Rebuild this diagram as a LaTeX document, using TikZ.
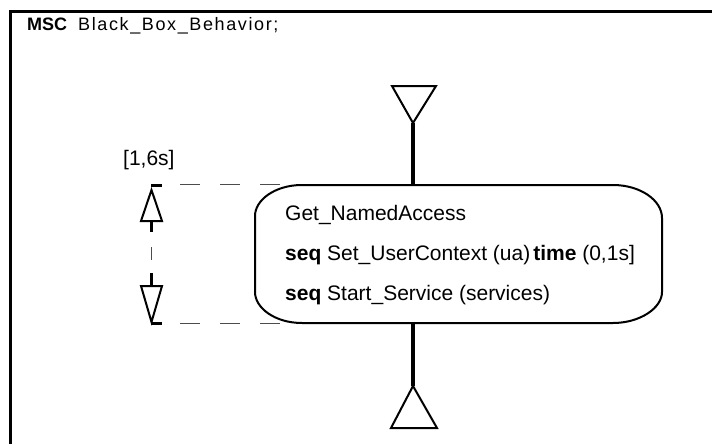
\documentclass[tikz,border=0pt]{standalone}
\usepackage{fontspec}
\setmainfont{Liberation Sans}
\newfontfamily\spaced[LetterSpace=9]{Liberation Sans}
\begin{document}
\begin{tikzpicture}[x=1pt,y=-1pt,
  frameline/.style={line width=3pt,black},
  boxline/.style={line width=2pt,black,line join=round},
  lifeline/.style={line width=4pt,black},
  endtri/.style={line width=2pt,black,line join=miter},
  timerline/.style={line width=3pt,black},
  timertri/.style={line width=2pt,black,line join=miter},
  guide/.style={line width=1pt,black!70,dash pattern=on 20pt off 20pt},
  txt/.style={inner sep=0pt,anchor=base west,font=\fontsize{21}{25}\selectfont},
  ttl/.style={inner sep=0pt,anchor=base west,font=\fontsize{18}{21}\selectfont}]
\useasboundingbox (0,0) rectangle (712,444);
% frame
\coordinate (frTL) at (10.5,11.5);
\coordinate (frTR) at (713,11.5);
\coordinate (frBL) at (10.5,445);
\draw[frameline] (frTR) -- (frTL) -- (frBL);
\node[ttl] (title) at (27,30.5) {\textbf{MSC}\hspace{11pt}{\spaced Black\_Box\_Behavior;}};
% instance head / foot
\coordinate (topA) at (413,123);
\coordinate (topL) at (392,86);
\coordinate (topR) at (436,86);
\coordinate (botA) at (413,386);
\coordinate (botL) at (391,428);
\coordinate (botR) at (437,428);
\draw[endtri] (topL) -- (topR) -- (topA) -- cycle;
\draw[endtri] (botL) -- (botR) -- (botA) -- cycle;
% inline box
\coordinate (boxT) at (413,185);
\coordinate (boxB) at (413,323);
\draw[boxline] (302,185) -- (613,185) .. controls (640,185) and (662,200) .. (662,218)
  -- (662,292) .. controls (662,308) and (640,323) .. (613,323)
  -- (302,323) .. controls (275,323) and (255,308) .. (255,292)
  -- (255,216) .. controls (255,200) and (275,185) .. (302,185) -- cycle;
\draw[lifeline] (topA) -- (boxT);
\draw[lifeline] (boxB) -- (botA);
\node[txt] (l1) at (285,220.5) {Get\_NamedAccess};
\node[txt] (l2) at (285,260.5) {\textbf{seq} Set\_UserContext (ua)\hspace{3pt}\textbf{time} (0,1s]};
\node[txt] (l3) at (285,300.5) {\textbf{seq} Start\_Service (services)};
% timer
\coordinate (gT1) at (180,184);
\coordinate (gT2) at (284,184);
\coordinate (gB1) at (180,323);
\coordinate (gB2) at (284,323);
\draw[guide] (gT1) -- (gT2);
\draw[guide] (gB1) -- (gB2);
\coordinate (tk1) at (151,185);
\coordinate (tk2) at (162,185);
\coordinate (tk3) at (151,323);
\coordinate (tk4) at (162,323);
\draw[timerline] (tk1) -- (tk2);
\draw[timerline] (tk3) -- (tk4);
\draw[timertri] (151.5,190) -- (162,221) -- (141,221) -- cycle;
\draw[timertri] (141,286) -- (162,286) -- (151.5,322) -- cycle;
\draw[timerline] (151.5,221) -- (151.5,232);
\draw[line width=1pt,black!70,dash pattern=on 0pt off 15pt on 13pt off 30pt] (151.5,232) -- (151.5,273);
\draw[timerline] (151.5,273) -- (151.5,286);
\node[txt] (lbl) at (123,165) {[1,6s]};
\end{tikzpicture}
\end{document}
